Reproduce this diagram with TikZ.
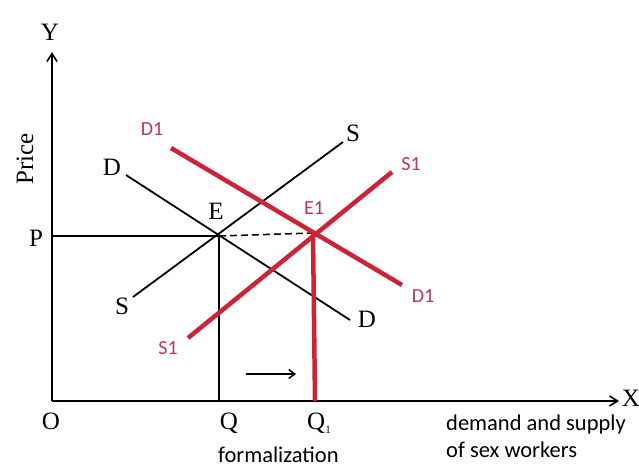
\documentclass[tikz,border=0pt]{standalone}
\usepackage{fontspec}
\setmainfont{Liberation Serif}
\newfontfamily\lblsans{Carlito}
\usetikzlibrary{arrows.meta}
\definecolor{redline}{RGB}{205,35,55}
\definecolor{redtext}{RGB}{190,55,80}
\tikzset{
  axisline/.style={line width=2.2pt,-{Straight Barb[length=8pt,width=10pt,line width=1.6pt]}},
  blackcurve/.style={line width=1.8pt,black},
  redcurve/.style={line width=4.5pt,redline},
  serlbl/.style={font=\fontsize{25}{28}\selectfont,inner sep=0pt},
  redlbl/.style={font=\lblsans\fontsize{20}{24}\selectfont,text=redtext,inner sep=0pt},
  botlbl/.style={font=\lblsans\fontsize{22.5}{27}\selectfont,inner sep=0pt,align=left},
}
\begin{document}
\begin{tikzpicture}[x=1pt,y=-1pt]
\useasboundingbox[fill=white] (0,0) rectangle (639,468);
% coordinates
\coordinate (O) at (52,401);
\coordinate (Ytop) at (52,52);
\coordinate (Xend) at (619,401);
\coordinate (Pleft) at (52,236);
\coordinate (E) at (219,236);
\coordinate (E1) at (313,233);
\coordinate (Qb) at (219,401);
\coordinate (Q1b) at (315,401);
\coordinate (Dtop) at (126,175);
\coordinate (Dbot) at (350,320);
\coordinate (Stop) at (343,142);
\coordinate (Sbot) at (133,297);
\coordinate (D1top) at (171,148);
\coordinate (D1bot) at (402,285);
\coordinate (S1top) at (392,172);
\coordinate (S1bot) at (188,338);
\coordinate (arrA) at (246,374);
\coordinate (arrB) at (296,374);
% axes
\draw[axisline] (O) -- (Ytop);
\draw[axisline] (O) -- (Xend);
% guide lines
\draw[line width=1.8pt] (Pleft) -- (E);
\draw[line width=1.5pt,dash pattern=on 7pt off 4pt] (E) -- (E1);
\draw[line width=1.8pt] (E) -- (Qb);
% black curves
\draw[blackcurve] (Dtop) -- (Dbot);
\draw[blackcurve] (Sbot) -- (Stop);
% red curves
\draw[redcurve] (D1top) -- (D1bot);
\draw[redcurve] (S1bot) -- (S1top);
\draw[redcurve] (E1) -- (Q1b);
% shift arrow
\draw[line width=1.6pt,-{Straight Barb[length=6pt,width=9pt,line width=1.5pt]}] (arrA) -- (arrB);
% labels
\node[serlbl] (Ylbl) at (50,32) {Y};
\node[serlbl] (Xlbl) at (631,398) {X};
\node[serlbl,rotate=90] (Price) at (25,159) {Price};
\node[serlbl] (Plbl) at (36,238) {P};
\node[serlbl] (Olbl) at (51,421) {O};
\node[serlbl] (Qlbl) at (229,423) {Q};
\node[serlbl] (Q1lbl) at (319,423) {Q\raisebox{-0.35ex}{\fontsize{11}{12}\selectfont 1}};
\node[serlbl] (Elbl) at (216,211) {E};
\node[serlbl] (Dl1) at (112,167) {D};
\node[serlbl] (Dl2) at (367,319) {D};
\node[serlbl] (Sl1) at (353,133) {S};
\node[serlbl] (Sl2) at (122,306) {S};
\node[redlbl] (D1l1) at (152,129) {D1};
\node[redlbl] (D1l2) at (423,296) {D1};
\node[redlbl] (S1l1) at (411,164) {S1};
\node[redlbl] (S1l2) at (168,348) {S1};
\node[redlbl] (E1l) at (314,208) {E1};
\node[botlbl,anchor=west] (form) at (218,455) {formalization};
\node[botlbl,anchor=north west] (dem) at (446,415) {demand and supply\\of sex workers};
\end{tikzpicture}
\end{document}
